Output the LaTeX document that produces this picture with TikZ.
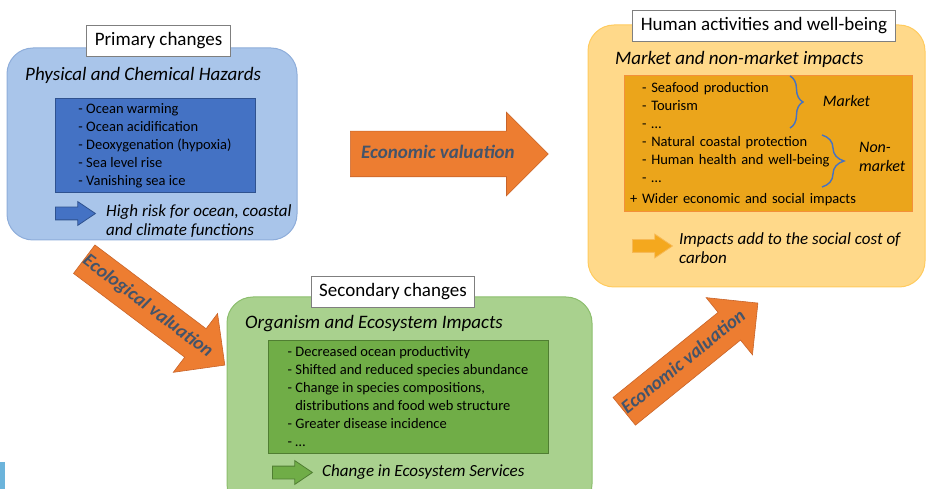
\documentclass[tikz,border=0pt]{standalone}
\usepackage{fontspec}
\setmainfont{Carlito}
\usetikzlibrary{shapes,arrows,positioning,decorations.pathreplacing}

\definecolor{hazfill}{HTML}{A9C5EA}
\definecolor{hazline}{HTML}{8EADDA}
\definecolor{hazlistfill}{HTML}{4472C4}
\definecolor{hazlistline}{HTML}{2F528F}
\definecolor{ecofill}{HTML}{A9D18E}
\definecolor{ecoline}{HTML}{8CBE6D}
\definecolor{ecolistfill}{HTML}{70AD47}
\definecolor{ecolistline}{HTML}{507E32}
\definecolor{humfill}{HTML}{FFD98A}
\definecolor{humline}{HTML}{FFCB5E}
\definecolor{humlistfill}{HTML}{EBA51B}
\definecolor{humlistline}{HTML}{F3903A}
\definecolor{humarrowfill}{HTML}{F4A81E}
\definecolor{humarrowline}{HTML}{F7B955}
\definecolor{arrowfill}{HTML}{ED7D31}
\definecolor{arrowline}{HTML}{C8642A}
\definecolor{arrowtext}{HTML}{44546A}
\definecolor{titleline}{HTML}{7F7F7F}
\definecolor{skyblue}{HTML}{6CB4DB}

\begin{document}
\begin{tikzpicture}[x=1pt,y=-1pt,
    bigbox/.style={rounded corners=26pt, line width=1pt},
    titlebox/.style={draw=titleline, fill=white, line width=0.8pt, minimum height=31pt, inner xsep=8pt, font=\fontsize{19}{22}\selectfont},
    heading/.style={anchor=west, inner sep=0pt, font=\fontsize{19}{22}\selectfont\itshape},
    listbox/.style={line width=1pt, align=left, font=\fontsize{14.5}{18}\selectfont},
    caption/.style={anchor=west, inner sep=0pt, align=left, font=\fontsize{17}{19}\selectfont\itshape},
    sidelabel/.style={inner sep=0pt, align=left, font=\fontsize{16}{19}\selectfont\itshape},
    smallarrow/.style={single arrow, anchor=tail, minimum height=40pt, single arrow head extend=5.5pt, single arrow tip angle=68, inner xsep=0pt, inner ysep=6pt, text height=0pt, text depth=0pt, line width=0.8pt},
    valarrow/.style={single arrow, anchor=tail, single arrow head extend=19pt, fill=arrowfill, draw=arrowline, line width=0.6pt, text=arrowtext, font=\fontsize{19}{22}\selectfont\bfseries\itshape, text height=13pt, text depth=4pt, inner xsep=0pt},
    brace/.style={decorate, draw=hazlistfill, line width=1.4pt}]
\useasboundingbox (0,0) rectangle (927,489);

% primary changes
\node[bigbox, fill=hazfill, draw=hazline, minimum width=290pt, minimum height=192pt] (hazards) at (152,144) {};
\node[titlebox] (primary) at (158.5,41) {Primary changes};
\node[heading] (hazhead) at (25,75) {Physical and Chemical Hazards};
\node[listbox, fill=hazlistfill, draw=hazlistline, minimum width=200pt, minimum height=94pt] (hazlist) at (155,146)
  {- Ocean warming\\- Ocean acidification\\- Deoxygenation (hypoxia)\\- Sea level rise\\- Vanishing sea ice};
\node[smallarrow, fill=hazlistfill, draw=hazlistline] (hazarrow) at (55,213.5) {};
\node[caption] (hazrisk) at (106,221) {High risk for ocean, coastal\\and climate functions};

% secondary changes
\node[bigbox, fill=ecofill, draw=ecoline, minimum width=365pt, minimum height=213pt] (ecosystem) at (409.5,403.5) {};
\node[titlebox] (secondary) at (393,292) {Secondary changes};
\node[heading] (ecohead) at (245,324) {Organism and Ecosystem Impacts};
\node[listbox, fill=ecolistfill, draw=ecolistline, minimum width=280pt, minimum height=113pt] (ecolist) at (408,396.5)
  {- Decreased ocean productivity\\- Shifted and reduced species abundance\\- Change in species compositions,\\\hphantom{- }distributions and food web structure\\- Greater disease incidence\\- \dots};
\node[smallarrow, fill=ecolistfill, draw=ecolistline] (ecoarrow) at (272,472.5) {};
\node[caption] (ecoservices) at (322,472) {Change in Ecosystem Services};

% human activities
\node[bigbox, fill=humfill, draw=humline, minimum width=337pt, minimum height=262pt] (human) at (756.5,156) {};
\node[titlebox] (wellbeing) at (764,26) {Human activities and well-being};
\node[heading] (humhead) at (615,59) {Market and non-market impacts};
\node[listbox, text width=276pt, inner xsep=6pt, fill=humlistfill, draw=humlistline, minimum height=136pt] (humlist) at (768,144)
  {\hspace*{12pt}- Seafood production\\\hspace*{12pt}- Tourism\\\hspace*{12pt}- \dots\\\hspace*{12pt}- Natural coastal protection\\\hspace*{12pt}- Human health and well-being\\\hspace*{12pt}- \dots\\[3pt]+ Wider economic and social impacts};
\coordinate (mtop) at (790,76);
\coordinate (mbot) at (790,128);
\coordinate (ntop) at (822,135);
\coordinate (nbot) at (822,187);
\draw[brace, decoration={brace, amplitude=13pt}] (mtop) -- (mbot);
\draw[brace, decoration={brace, amplitude=22pt}] (ntop) -- (nbot);
\node[sidelabel] (market) at (846.5,101) {Market};
\node[sidelabel, anchor=west] (nonmarket) at (859,157) {Non-\\market};
\node[smallarrow, fill=humarrowfill, draw=humarrowline] (humarrow) at (632,246) {};
\node[caption] (socialcost) at (679,248) {Impacts add to the social cost of\\carbon};

% valuation arrows
\node[valarrow, minimum height=198pt, inner ysep=14pt] (econ) at (350,154) {Economic valuation};
\node[valarrow, rotate=-37, minimum height=176pt, inner ysep=9pt] (ecol) at (84,259) {Ecological valuation};
\node[valarrow, rotate=39, minimum height=172pt, inner ysep=9pt] (econsoc) at (624,411.5) {Economic valuation};

\fill[skyblue] (0,462) rectangle (5,489);
\end{tikzpicture}
\end{document}
